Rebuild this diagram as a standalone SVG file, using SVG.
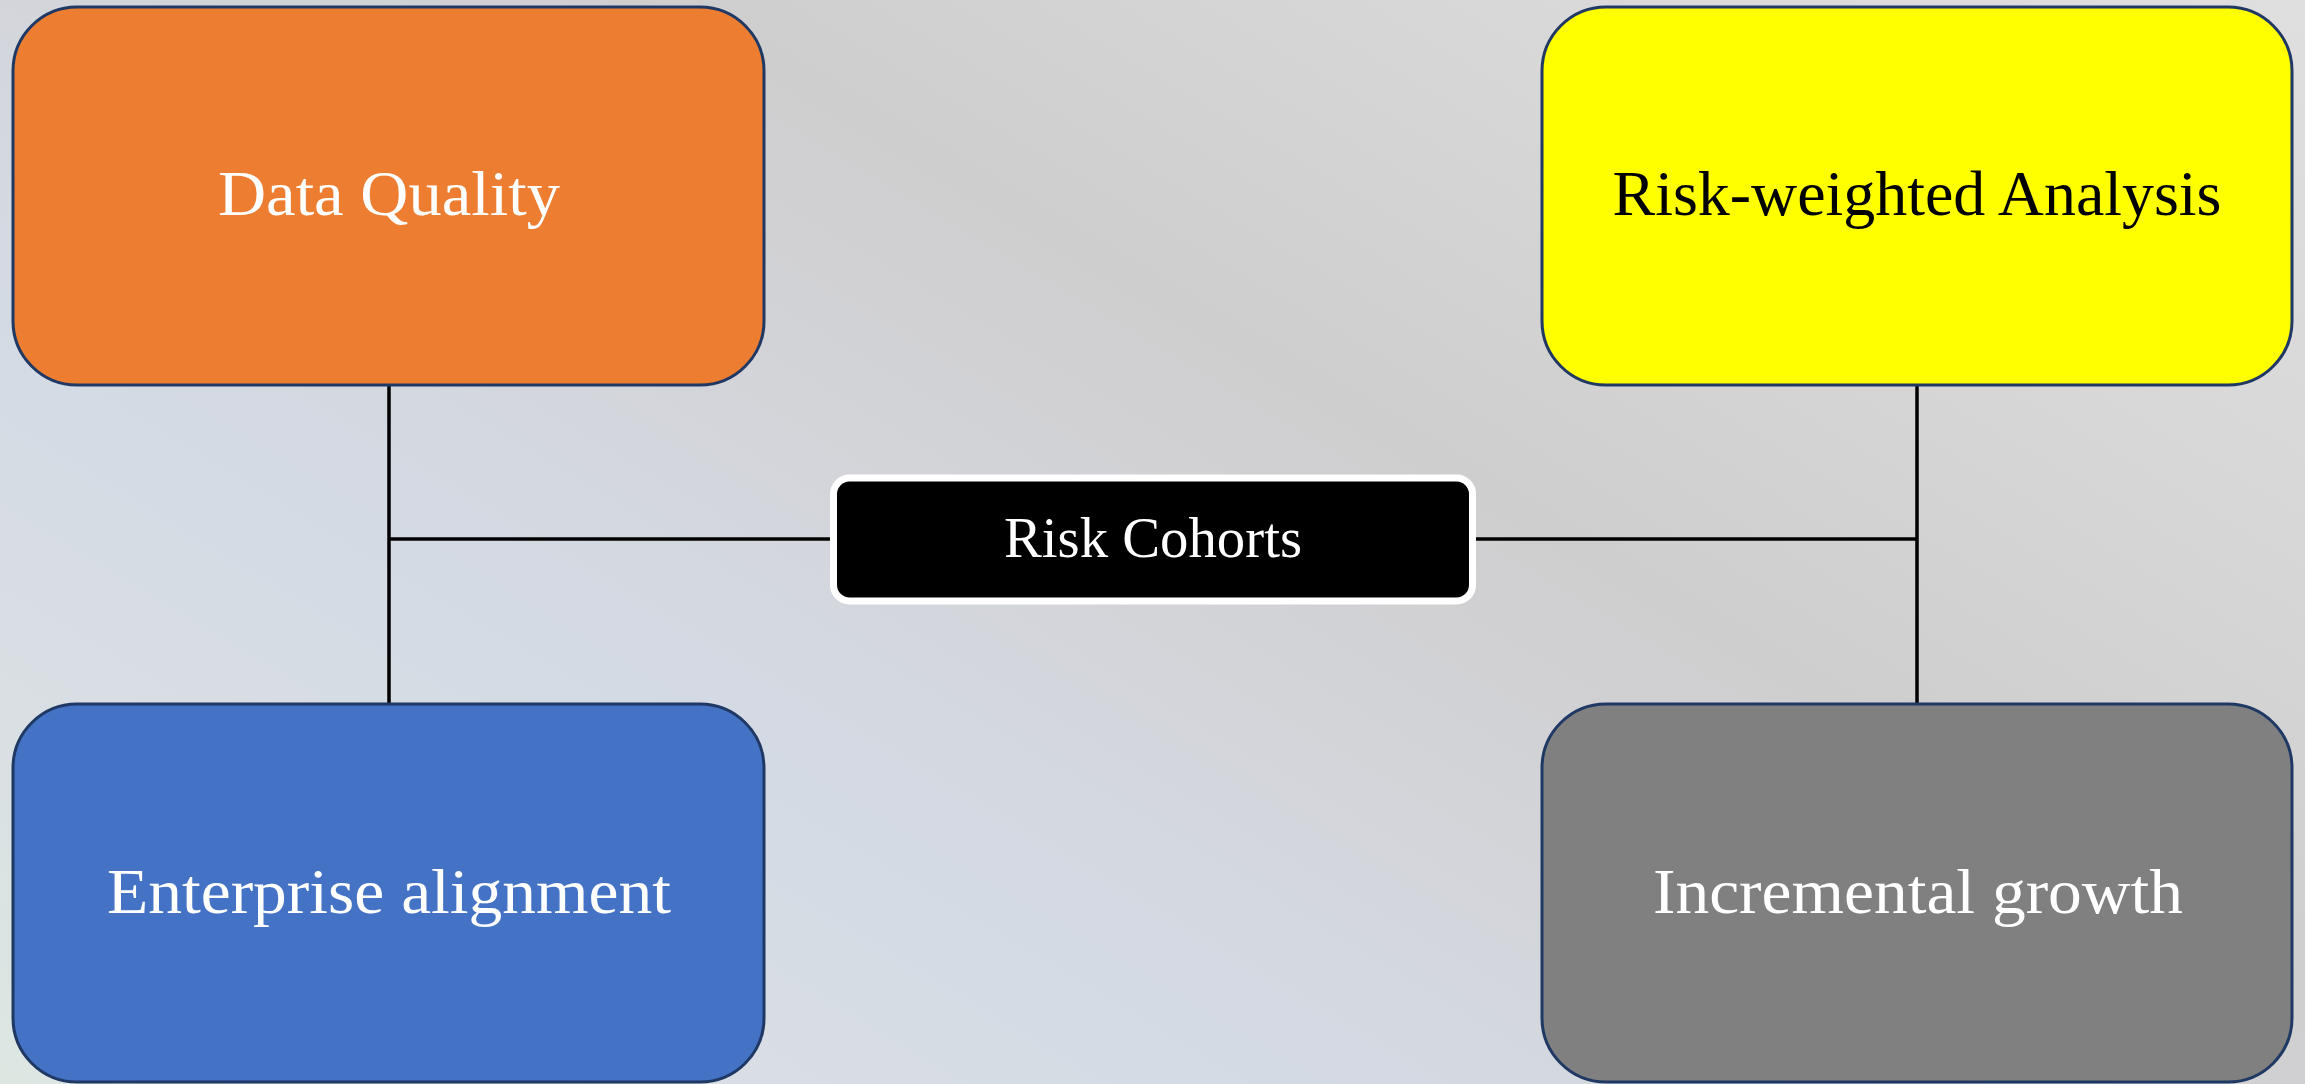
<svg xmlns="http://www.w3.org/2000/svg" width="2305" height="1084" viewBox="0 0 2305 1084">
  <defs>
    <!-- soft diagonal backdrop: light grey at top-right, grey ridge, bluish, pale green at bottom-left -->
    <linearGradient id="bg" gradientUnits="userSpaceOnUse" x1="2305" y1="0" x2="1218" y2="1812">
      <stop offset="0" stop-color="#e0dfdf"/>
      <stop offset="0.2" stop-color="#d9d8d9"/>
      <stop offset="0.40" stop-color="#cfcecf"/>
      <stop offset="0.55" stop-color="#d3d5da"/>
      <stop offset="0.68" stop-color="#d4dae4"/>
      <stop offset="0.85" stop-color="#d9dfe3"/>
      <stop offset="1" stop-color="#dde7e2"/>
    </linearGradient>
  </defs>
  <style>
    .box { stroke: #1f3864; stroke-width: 3; }
    .hub { fill: #000000; stroke: #ffffff; stroke-width: 7; }
    .link { stroke: #000000; stroke-width: 3.5; fill: none; }
    .lbl { font-family: "Liberation Serif", "DejaVu Serif", serif; text-anchor: middle; }
  </style>

  <rect x="0" y="0" width="2305" height="1084" fill="url(#bg)"/>

  <g id="connectors">
    <line class="link" x1="389" y1="385" x2="389" y2="704"/>
    <line class="link" x1="389" y1="539" x2="830" y2="539"/>
    <line class="link" x1="1917" y1="385" x2="1917" y2="704"/>
    <line class="link" x1="1476" y1="539" x2="1917" y2="539"/>
  </g>

  <g id="data-quality">
    <rect class="box" x="13" y="7" width="751" height="378" rx="64" ry="64" fill="#ed7d31"/>
    <text class="lbl" x="389" y="215" font-size="64" fill="#ffffff" textLength="342" lengthAdjust="spacingAndGlyphs">Data Quality</text>
  </g>

  <g id="risk-weighted-analysis">
    <rect class="box" x="1542" y="7" width="750" height="378" rx="64" ry="64" fill="#ffff00"/>
    <text class="lbl" x="1917" y="215" font-size="64" fill="#000000" textLength="609" lengthAdjust="spacingAndGlyphs">Risk-weighted Analysis</text>
  </g>

  <g id="risk-cohorts">
    <rect class="hub" x="833.5" y="478" width="639" height="123" rx="16" ry="16"/>
    <text class="lbl" x="1153" y="557" font-size="56" fill="#ffffff" textLength="298" lengthAdjust="spacingAndGlyphs">Risk Cohorts</text>
  </g>

  <g id="enterprise-alignment">
    <rect class="box" x="13" y="704" width="751" height="378" rx="64" ry="64" fill="#4472c4"/>
    <text class="lbl" x="389" y="913" font-size="64" fill="#ffffff" textLength="564" lengthAdjust="spacingAndGlyphs">Enterprise alignment</text>
  </g>

  <g id="incremental-growth">
    <rect class="box" x="1542" y="704" width="750" height="378" rx="64" ry="64" fill="#808080"/>
    <text class="lbl" x="1918" y="913" font-size="64" fill="#ffffff" textLength="530" lengthAdjust="spacingAndGlyphs">Incremental growth</text>
  </g>
</svg>
